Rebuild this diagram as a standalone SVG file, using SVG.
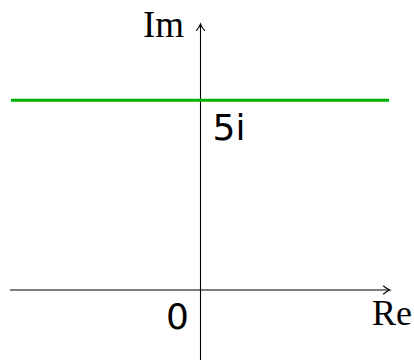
<svg xmlns="http://www.w3.org/2000/svg" width="414" height="360" viewBox="0 0 414 360">
<style>
.ax{stroke:#000;stroke-width:1.1;fill:none}
.arr{stroke:#000;stroke-width:1.1;fill:none;stroke-linecap:round}
.lbl{font-family:"Liberation Serif",serif;fill:#000}
.num{font-family:"DejaVu Sans","Liberation Sans",sans-serif;fill:#000}
</style>
<rect width="414" height="360" fill="#fff"/>
<g id="connectors">
<line class="ax" x1="10" y1="290" x2="389.5" y2="290"/>
<path class="arr" d="M383.5,286 Q387,289 390,290 Q387,291 383.5,294"/>
<line class="ax" x1="200.5" y1="360" x2="200.5" y2="24.5"/>
<path class="arr" d="M196.5,30.5 Q199.5,27 200.5,24 Q201.5,27 204.5,30.5"/>
</g>
<g id="line-5i">
<line x1="11" y1="100.3" x2="389" y2="100.3" stroke="#00b000" stroke-width="3"/>
</g>
<g id="label-im"><text class="lbl" x="184" y="37" font-size="37" text-anchor="end">Im</text></g>
<g id="label-re"><text class="lbl" x="412" y="325" font-size="36" text-anchor="end">Re</text></g>
<g id="label-0"><text class="num" x="177.5" y="329" font-size="36" text-anchor="middle">0</text></g>
<g id="label-5i"><text class="num" x="229" y="140" font-size="36" text-anchor="middle">5i</text></g>
</svg>
